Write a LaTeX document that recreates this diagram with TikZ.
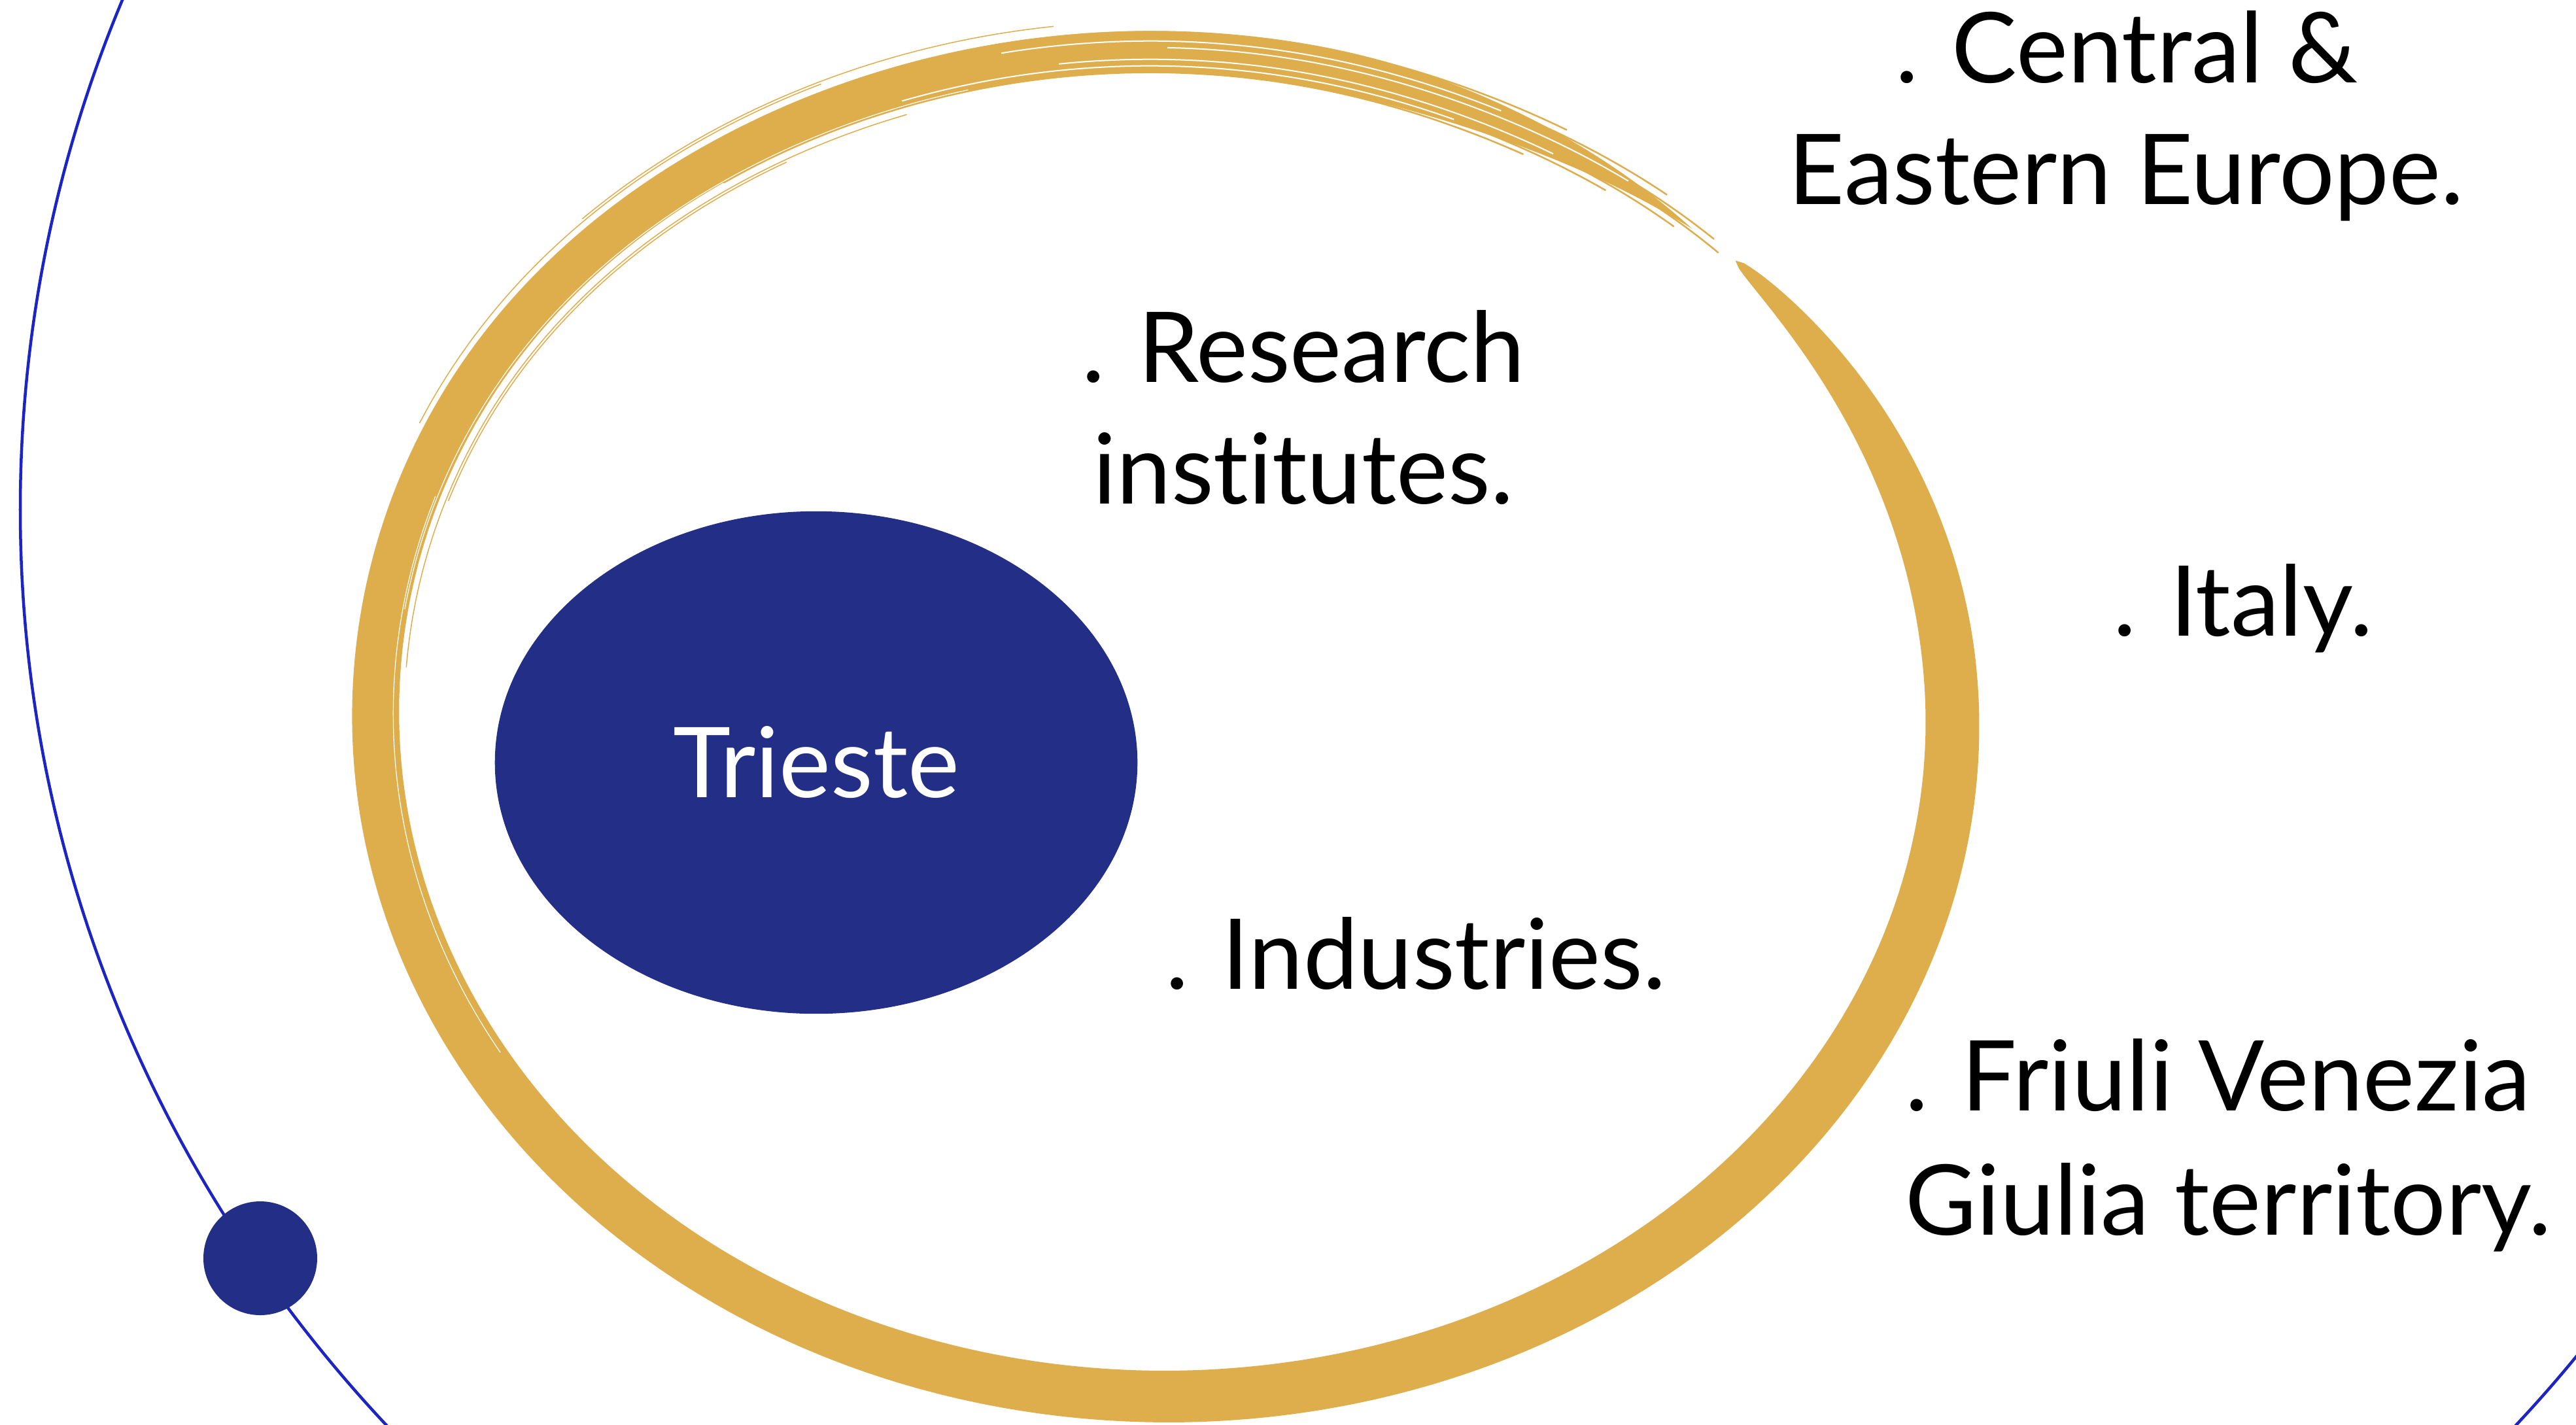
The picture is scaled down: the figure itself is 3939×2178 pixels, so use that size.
\documentclass[tikz,border=0pt]{standalone}
\usepackage{fontspec}
\setmainfont{Lato}[Ligatures=NoCommon]
\usetikzlibrary{shapes.geometric}
\definecolor{gold}{RGB}{223,174,76}
\definecolor{navy}{RGB}{35,46,135}
\definecolor{orbit}{RGB}{28,36,196}
\newcommand\lblfont{\fontsize{42.5pt}{53pt}\selectfont}
\tikzset{
  lbl/.style={font=\lblfont, text=black, inner sep=0pt, anchor=base},
  hair/.style={draw=gold, line width=0.025cm},
  gap/.style={draw=white, line width=0.02cm},
  declare function={
    bw(\t)=(74+5*cos(\t)+8*sin(\t)+3*cos(2*\t))*sqrt(max(0,sin(90*max(0,min(1,(\t+43.6)/40)))))*sin(90*max(0,min(1,(312.2-\t)/32)));
    bd(\t)=22/(1+((\t-215)/35)*((\t-215)/35))-12/(1+((\t-295)/22)*((\t-295)/22));
    rxo(\t,\o)=1785+(1200+bd(\t)+\o)*cos(\t);
    ryo(\t,\o)=1107+(1027+bd(\t)+\o)*sin(\t);
  }
}
\begin{document}
\begin{tikzpicture}[x=0.01cm,y=-0.01cm]
\useasboundingbox (0,0) rectangle (3939,2178);
\clip (0,0) rectangle (3939,2178);
\fill[white] (0,0) rectangle (3939,2178);
% large thin orbit
\draw[orbit, line width=0.045cm] (2219,779) ellipse [x radius=2188, y radius=2096];
% small dot on the orbit
\fill[navy] (398,1924) circle [radius=87];
% brush ring
\fill[gold] plot[domain=-43.6:312.2, samples=600] ({rxo(\x,0.5*bw(\x))},{ryo(\x,0.5*bw(\x))})
  -- plot[domain=312.2:-43.6, samples=600] ({rxo(\x,-0.5*bw(\x))},{ryo(\x,-0.5*bw(\x))}) -- cycle;
% brush hairs near the tapering end
\foreach \o/\a/\b in {30/240/300, 20/250/309, 8/255/314, -4/250/315, -14/245/311, -24/240/305, -32/235/298}{
  \draw[hair] plot[domain=\a:\b, samples=80] ({rxo(\x,\o)},{ryo(\x,\o)});
}
\foreach \o/\a/\b in {-12/262/300, 6/270/306, 16/258/295, -22/250/292}{
  \draw[gap] plot[domain=\a:\b, samples=80] ({rxo(\x,\o)},{ryo(\x,\o)});
}
% hairs along edges of the upper left
\foreach \o/\a/\b in {-44/185/250, -48/200/240, 42/205/245, 46/225/262}{
  \draw[draw=gold, line width=0.015cm] plot[domain=\a:\b, samples=80] ({rxo(\x,\o)},{ryo(\x,\o)});
}
\foreach \o/\a/\b in {-30/190/255, -27/150/200}{
  \draw[draw=white, line width=0.012cm] plot[domain=\a:\b, samples=80] ({rxo(\x,\o)},{ryo(\x,\o)});
}
% Trieste
\node[ellipse, fill=navy, minimum width=9.82cm, minimum height=7.68cm, inner sep=0pt,
  text=white, font=\lblfont] (trieste) at (1248,1166) {Trieste};
% labels
\node[lbl] (ce1) at (3252,126) {. Central \&};
\node[lbl] (ce2) at (3251,312) {Eastern Europe.};
\node[lbl] (re1) at (1993,584) {. Research};
\node[lbl] (re2) at (1993,770) {institutes.};
\node[lbl] (ita) at (3430,972) {. Italy.};
\node[lbl] (ind) at (2165,1512) {. Industries.};
\node[lbl, anchor=base west] (fr1) at (2913,1698) {. Friuli Venezia};
\node[lbl, anchor=base west] (fr2) at (2913,1888) {Giulia territory.};
\end{tikzpicture}
\end{document}
